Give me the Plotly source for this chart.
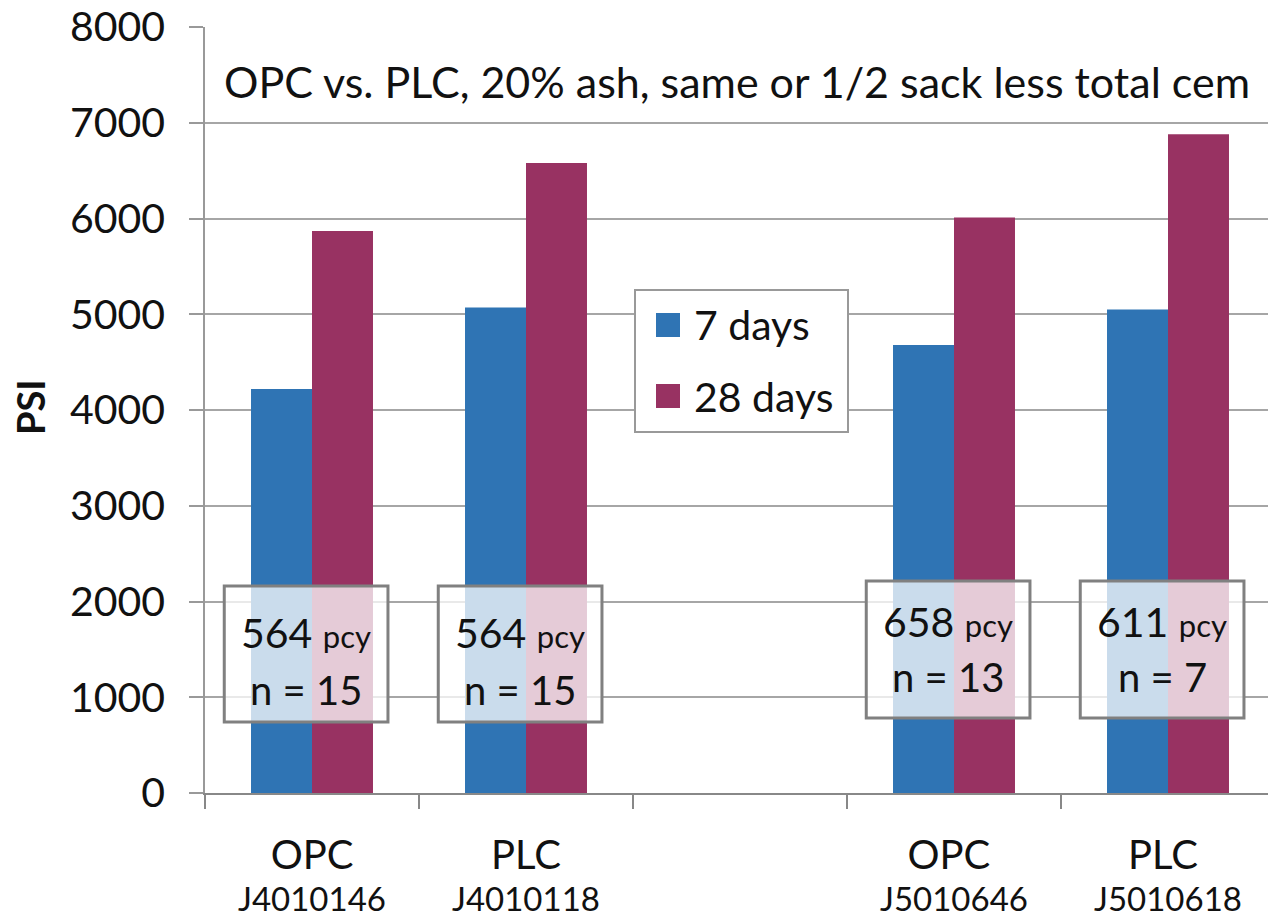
import plotly.graph_objects as go

# ---- data ----
categories = ["OPC", "PLC", "  ", "OPC ", "PLC "]
codes = ["J4010146", "J4010118", "", "J5010646", "J5010618"]
bar_cats = [categories[0], categories[1], categories[3], categories[4]]
days7 = [4220, 5070, 4680, 5050]
days28 = [5870, 6580, 6010, 6880]
pcy = ["564", "564", "658", "611"]
n_vals = ["15", "15", "13", "7"]
box_idx = [0, 1, 3, 4]
box_y0 = [741, 741, 783, 783]
box_y1 = [2162, 2162, 2214, 2214]
line1_y = [1681, 1681, 1786, 1786]
line2_y = [1076, 1076, 1211, 1211]
y_ticks = [0, 1000, 2000, 3000, 4000, 5000, 6000, 7000, 8000]

BLUE = "#2F74B4"
MAG = "#983262"
FONT = "Lato"

# body margin is removed by post_script, so figure occupies the full page
W, H = 1268, 918
L, R, T, B = 205, 1268, 27, 793   # plot area in page pixels


def px(x):
    return (x - L) / (R - L)


def py(y):
    return (B - y) / (B - T)


fig = go.Figure()
fig.add_trace(go.Bar(x=bar_cats, y=days7, name="7 days", marker_color=BLUE,
                     marker_line_width=0, showlegend=False))
fig.add_trace(go.Bar(x=bar_cats, y=days28, name="28 days", marker_color=MAG,
                     marker_line_width=0, showlegend=False))

shapes = []
annotations = []
for k, i in enumerate(box_idx):
    shapes.append(dict(type="rect", xref="x", yref="y", x0=i - 0.41, x1=i + 0.355,
                       y0=box_y0[k], y1=box_y1[k],
                       fillcolor="rgba(255,255,255,0.75)",
                       line=dict(color="#808080", width=3), layer="above"))
    annotations.append(dict(xref="x", yref="y", x=i - 0.027, y=line1_y[k],
                            text=f"{pcy[k]} <span style='font-size:31px'>pcy</span>",
                            showarrow=False, font=dict(family=FONT, size=41, color="#111")))
    annotations.append(dict(xref="x", yref="y", x=i - 0.027, y=line2_y[k],
                            text=f"n = {n_vals[k]}",
                            showarrow=False, font=dict(family=FONT, size=40, color="#111")))

# secondary category labels (mix codes)
for i, c in enumerate(codes):
    if c:
        annotations.append(dict(xref="x", yref="paper", x=i, y=py(898), yanchor="middle",
                                text=c, showarrow=False, borderpad=0,
                                font=dict(family=FONT, size=33, color="#111")))

# title inside plot
annotations.append(dict(xref="paper", yref="paper", x=px(222), y=py(82), xanchor="left",
                        yanchor="middle", text="OPC vs. PLC, 20% ash, same or 1/2 sack less total cem",
                        showarrow=False, font=dict(family=FONT, size=43, color="#111")))
# y axis title
annotations.append(dict(xref="paper", yref="paper", x=px(30), y=py(407), textangle=-90,
                        xanchor="center", yanchor="middle",
                        text="<b>PSI</b>", showarrow=False,
                        font=dict(family=FONT, size=38, color="#111")))

# manual legend
shapes.append(dict(type="rect", xref="paper", yref="paper", x0=px(635), x1=px(848),
                   y0=py(432), y1=py(290), fillcolor="white",
                   line=dict(color="#999999", width=2), layer="above"))
for (col, label, yc) in [(BLUE, "7 days", 325), (MAG, "28 days", 396)]:
    shapes.append(dict(type="rect", xref="paper", yref="paper", x0=px(656), x1=px(680),
                       y0=py(yc + 12), y1=py(yc - 12), fillcolor=col, line=dict(width=0),
                       layer="above"))
    annotations.append(dict(xref="paper", yref="paper", x=px(692), y=py(yc), xanchor="left",
                            yanchor="middle", text=label, showarrow=False,
                            font=dict(family=FONT, size=41, color="#111")))

fig.update_layout(
    width=W, height=H,
    margin=dict(l=L, r=W - R, t=T, b=H - B),
    plot_bgcolor="white", paper_bgcolor="white",
    barmode="group", bargap=0.43, bargroupgap=0,
    shapes=shapes, annotations=annotations,
    font=dict(family=FONT, size=40, color="#111"),
    xaxis=dict(type="category", categoryorder="array", categoryarray=categories,
               range=[-0.5, -0.5 + (R - L) / 214.0], tickson="boundaries",
               ticks="outside", ticklen=14, tickcolor="#888", tickwidth=1.5,
               showline=True, linecolor="#888", linewidth=1.5, ticklabelstandoff=26,
               automargin=False,
               showgrid=False, tickfont=dict(family=FONT, size=40, color="#111")),
    yaxis=dict(range=[0, 8000], tickvals=y_ticks,
               ticks="outside", ticklen=14, tickcolor="#999", tickwidth=1.5,
               showline=True, linecolor="#999", linewidth=1.5, ticklabelstandoff=16,
               ticklabeloverflow="allow", automargin=False,
               showgrid=True, gridcolor="#a6a6a6", gridwidth=1.5,
               tickfont=dict(family=FONT, size=41, color="#111"), zeroline=False),
)

fig.write_html("out.html", config={"displayModeBar": False},
               post_script="document.body.style.margin='0';document.body.style.overflow='hidden';")
